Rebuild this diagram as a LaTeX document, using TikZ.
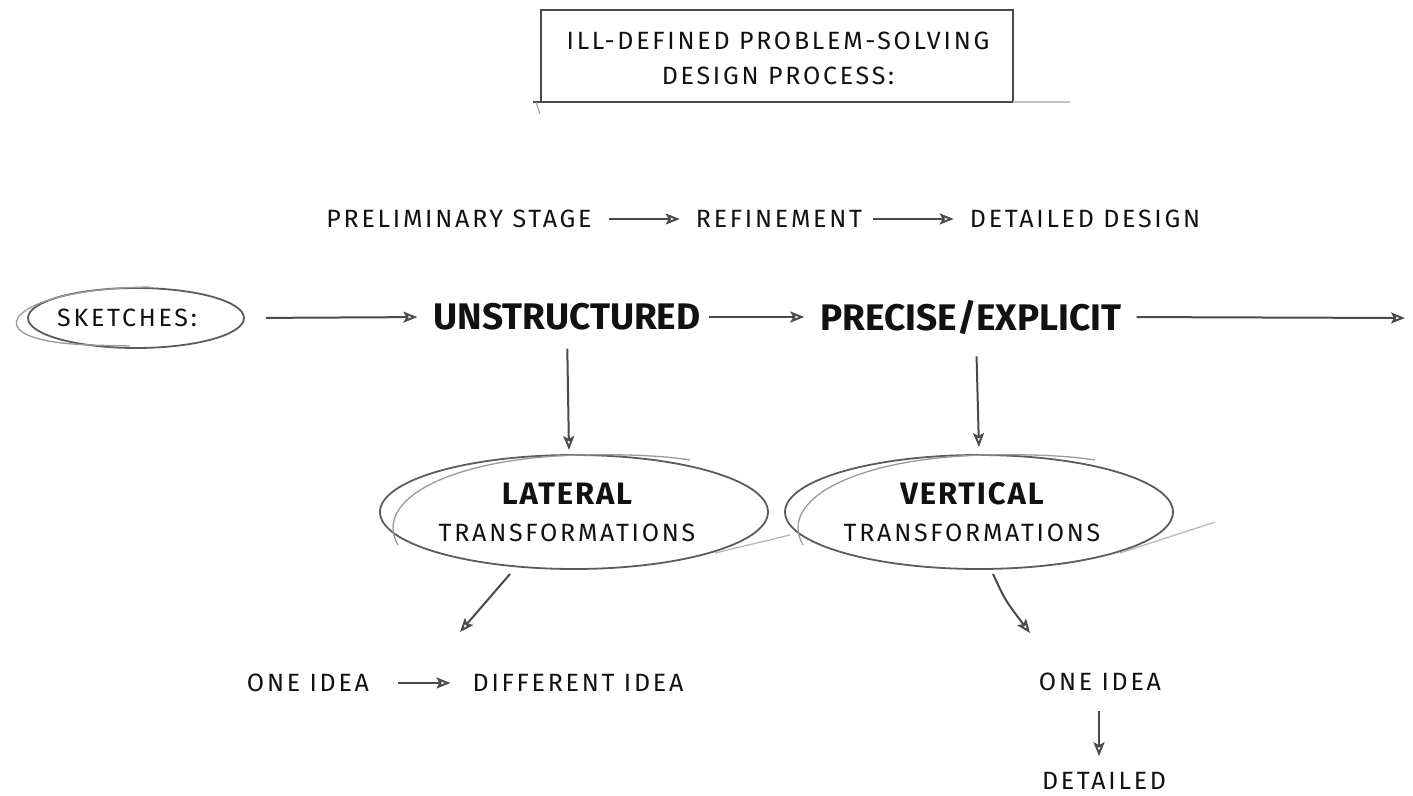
\documentclass[tikz,border=0pt]{standalone}
\usepackage{fontspec}
\setmainfont{Fira Sans}
\usetikzlibrary{arrows.meta,shapes.geometric}
\definecolor{ink}{HTML}{111111}
\definecolor{pen}{HTML}{4A4A4A}
\definecolor{lite}{HTML}{9A9A9A}
\tikzset{
  lbl/.style={inner sep=0pt, text=ink, font=\fontsize{25}{28}\selectfont\addfontfeature{LetterSpace=11}},
  big/.style={inner sep=0pt, text=ink, font=\fontsize{37}{42}\selectfont\bfseries},
  mid/.style={inner sep=0pt, text=ink, font=\fontsize{31}{36}\selectfont\bfseries\addfontfeature{LetterSpace=6}},
  conn/.style={draw=pen, line width=2pt, -{Stealth[open,length=14pt,width=11pt,inset=3pt]}},
  ring/.style={draw=pen!90, line width=1.8pt},
  ring2/.style={draw=lite, line width=1.3pt},
}
\begin{document}
\begin{tikzpicture}[x=1pt,y=-1pt]
\useasboundingbox (0,0) rectangle (1413,795);
% title box
\draw[pen, line width=1.6pt] (541,102) -- (541,10) -- (1013,10) -- (1013,102);
\draw[pen, line width=1.6pt] (533,102) -- (1013,102);
\draw[lite!60, line width=1.2pt] (1013,102) -- (1070,102);
\draw[lite, line width=1pt] (536,102) -- (540,114);
\node[lbl] (t1) at (778,41) {ILL-DEFINED PROBLEM-SOLVING};
\node[lbl] (t2) at (778,76) {DESIGN PROCESS:};
% stages
\node[lbl] (pre) at (459,219) {PRELIMINARY STAGE};
\node[lbl] (ref) at (779,219) {REFINEMENT};
\node[lbl] (det) at (1085,219) {DETAILED DESIGN};
\draw[conn, shorten <=17pt, shorten >=16pt] (pre.east) -- (ref.west);
\draw[conn, shorten <=11pt, shorten >=16pt] (ref.east) -- (det.west);
% sketches row
\node[lbl] (sk) at (127,318) {SKETCHES:};
\node[ellipse, ring, minimum width=216pt, minimum height=60pt] (ske) at (136,318) {};
\draw[ring2] (150,287) .. controls (40,288) and (-10,320) .. (30,336) .. controls (55,346) and (100,345) .. (130,346);
\node[big] (uns) at (567,317) {UNSTRUCTURED};
\node[big] (pre2) at (971,317) {PRECISE/EXPLICIT};
\coordinate (endr) at (1405,318);
\draw[conn, shorten <=21pt, shorten >=16pt] (ske.east) -- (uns.west);
\draw[conn, shorten <=8pt, shorten >=16pt] (uns.east) -- (pre2.west);
\draw[conn, shorten <=15pt] (pre2.east) -- (endr);
% ellipses
\node[ellipse, ring, minimum width=388pt, minimum height=114pt] (lat) at (574,512) {};
\node[mid] (latA) at (567,494) {LATERAL};
\node[lbl] (latB) at (567,533) {TRANSFORMATIONS};
\draw[ring2] (398,545) .. controls (372,500) and (450,458) .. (580,455) .. controls (630,454) and (665,456) .. (690,460);
\draw[ring2, lite!70] (715,553) -- (790,535);
\node[ellipse, ring, minimum width=388pt, minimum height=114pt] (ver) at (979,512) {};
\node[mid] (verA) at (972,494) {VERTICAL};
\node[lbl] (verB) at (972,533) {TRANSFORMATIONS};
\draw[ring2] (803,545) .. controls (777,500) and (855,458) .. (985,455) .. controls (1035,454) and (1070,456) .. (1095,460);
\draw[ring2, lite!70] (1120,553) -- (1215,522);
% verticals
\draw[conn, shorten <=18pt, shorten >=2pt] (uns.south) -- (569,452);
\draw[conn, shorten <=22pt, shorten >=3pt] (pre2.south -| 976,0) -- (979,450);
% lower
\node[lbl] (o1) at (308,683) {ONE IDEA};
\node[lbl] (d1) at (578,683) {DIFFERENT IDEA};
\node[lbl] (o2) at (1100,682) {ONE IDEA};
\node[lbl] (d2) at (1104,781) {DETAILED};
\draw[conn] (510,574) -- (460,632);
\draw[conn] (993,574) .. controls (1005,600) .. (1030,633);
\draw[conn, shorten <=29pt, shorten >=22pt] (o1.east) -- (d1.west);
\draw[conn, shorten <=20pt, shorten >=16pt] (o2.south -| 1099,0) -- (d2.north -| 1099,0);
\end{tikzpicture}
\end{document}
